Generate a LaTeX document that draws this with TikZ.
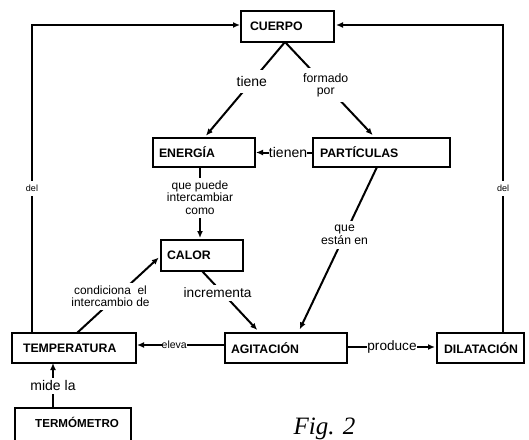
\documentclass[tikz,border=0pt]{standalone}
\usepackage{fontspec}
\setmainfont{Liberation Sans}
\newfontfamily\figserif{Liberation Serif}
\usetikzlibrary{arrows.meta,calc}
\newcommand\bxfont{\fontsize{12.3}{14}\selectfont\bfseries}
\newcommand\fsz[1]{\fontsize{#1}{#1}\selectfont}
\begin{document}
\begin{tikzpicture}[x=1pt,y=-1pt,
  conn/.style={line width=2pt},
  arr/.style={line width=2pt,-{Latex[length=7pt,width=6pt]}},
  box/.style={draw,line width=2pt,anchor=north west,outer sep=0pt,inner ysep=0pt,align=left,font=\bxfont},
  lbl/.style={fill=white,inner xsep=1pt,inner ysep=3pt,align=center},
]
\clip (0,0) rectangle (529,439);
\fill[white] (0,0) rectangle (529,439);

% boxes
\node[box,minimum height=31pt,text width=75pt,inner xsep=9pt] (cuerpo) at (241,11) {CUERPO};
\node[box,minimum height=29pt,text width=90pt,inner xsep=6pt] (energia) at (153,138) {ENERGÍA};
\node[box,minimum height=29pt,text width=123pt,inner xsep=7pt] (particulas) at (313,138) {PARTÍCULAS};
\node[box,minimum height=31pt,text width=70pt,inner xsep=6pt] (calor) at (161,240) {CALOR};
\node[box,minimum height=30pt,text width=102pt,inner xsep=11pt] (temperatura) at (12,333) {TEMPERATURA};
\node[box,minimum height=30pt,text width=110pt,inner xsep=6pt] (agitacion) at (225,333) {AGITACIÓN};
\node[box,minimum height=30pt,text width=73pt,inner xsep=7pt] (dilatacion) at (437,333) {DILATACIÓN};

\node[inner sep=0pt,anchor=west,font=\fontsize{11.6}{13}\selectfont\bfseries] (termometro) at (35,422) {TERMÓMETRO};
\coordinate (termtop) at ($(termometro.west)+(18,-14)$);
\draw[conn] ($(termometro.west)+(-20,30)$) -- ($(termometro.west)+(-20,-14)$) -- ($(termometro.east)+(12,-14)$) -- ($(termometro.east)+(12,30)$);

% side connectors
\draw[arr,shorten >=1pt] ([xshift=20pt]temperatura.north west) |- node[lbl,pos=0.235,inner ysep=4pt,font=\fsz{9}] (del1) {del} ([yshift=1.5pt]cuerpo.west);
\draw[arr,shorten >=2pt] ([xshift=-21pt]dilatacion.north east) |- node[lbl,pos=0.235,inner ysep=4pt,font=\fsz{9}] (del2) {del} ([yshift=1.5pt]cuerpo.east);

% diagonal connectors
\draw[arr,shorten >=3pt] ([xshift=-2.5pt]cuerpo.south) -- node[lbl,pos=0.41,inner ysep=6pt,font=\fsz{14}] (ltiene) {tiene} (energia.north);
\draw[arr,shorten >=4pt] ([xshift=-2.5pt]cuerpo.south) -- node[lbl,pos=0.45,inner ysep=5pt,font=\fontsize{12.3}{12.5}\selectfont] (lformado) {formado\\por} ([xshift=-6pt]particulas.north);
\draw[arr,shorten >=1pt] (particulas.west) -- node[lbl,pos=0.43,inner sep=0pt,font=\fsz{14}] (ltienen) {tienen} (energia.east);
\draw[arr,shorten >=2pt] ([xshift=-2pt]energia.south -| calor.north) -- node[lbl,pos=0.42,font=\fontsize{12}{12.5}\selectfont] (lpuede) {que puede\\intercambiar\\como} ([xshift=-2pt]calor.north);
\draw[arr,shorten >=4pt] ([xshift=-4.5pt]particulas.south) -- node[lbl,pos=0.41,inner ysep=4pt,font=\fontsize{12.2}{13}\selectfont] (lestan) {que\\están en} ([xshift=12pt]agitacion.north);
\draw[arr,shorten >=4pt] (calor.south) -- node[lbl,pos=0.355,xshift=-5pt,font=\fsz{13.7}] (lincr) {incrementa} ([xshift=-26pt]agitacion.north);
\draw[arr,shorten >=3pt] ([xshift=3pt]temperatura.north) -- node[lbl,pos=0.47,xshift=-6pt,font=\fontsize{11.9}{12}\selectfont] (lcond) {condiciona\ \ el\\intercambio de} (calor.west);
\draw[arr,shorten >=1pt] ([yshift=3pt]agitacion.west) -- node[lbl,pos=0.57,inner sep=0pt,font=\fsz{10.5}] (leleva) {eleva} ([yshift=3pt]temperatura.east);
\draw[arr,shorten >=2pt] ([yshift=1pt]agitacion.east) -- node[lbl,pos=0.5,inner sep=0pt,font=\fsz{13.6}] (lprod) {produce} ([yshift=1pt]dilatacion.west);
\draw[arr] (termtop) -- node[lbl,pos=0.49,inner ysep=3pt,font=\fsz{14}] (lmide) {mide la} (termtop |- temperatura.south);

\node[anchor=base,inner sep=0pt,font=\figserif\itshape\fontsize{25}{28}\selectfont] (fig) at (324.5,434) {Fig. 2};
\end{tikzpicture}
\end{document}
